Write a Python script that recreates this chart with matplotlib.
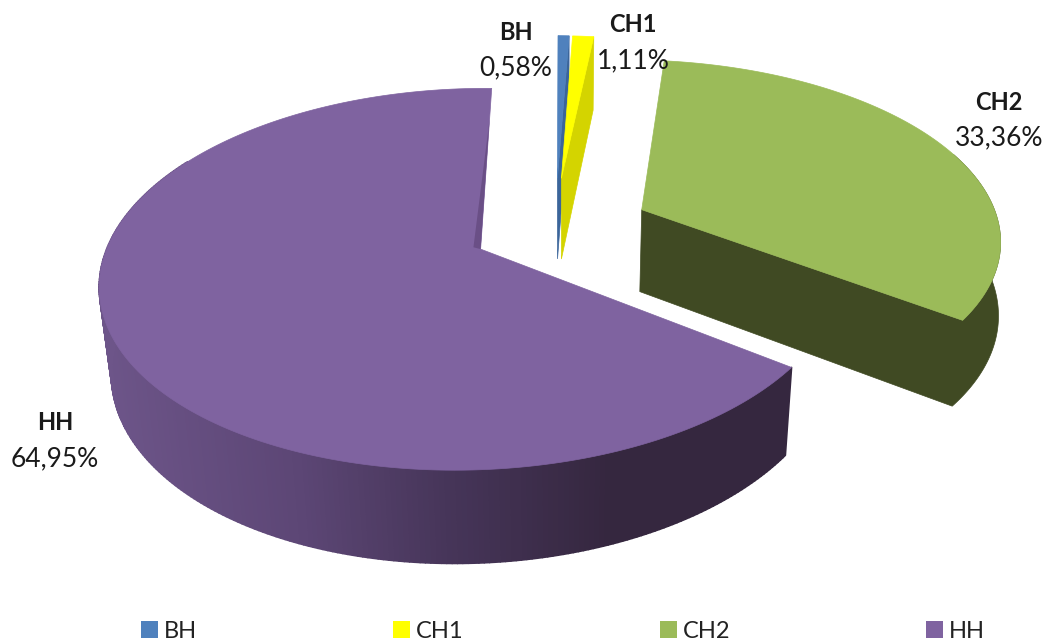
import numpy as np
import matplotlib
matplotlib.use("Agg")
import matplotlib.pyplot as plt
from matplotlib.patches import Polygon, Patch
from matplotlib.collections import PolyCollection
from matplotlib.colors import to_rgb

categories = ["BH", "CH1", "CH2", "HH"]
values = [0.58, 1.11, 33.36, 64.95]
top_colors = ["#4F81BD", "#FFFF00", "#9BBB59", "#7F63A0"]
wall_colors = ["#3B659A", "#D4D400", "#404A23", None]
label_pos = [(516, 49), (633, 42), (999, 119), (55, 440)]

X0, Y0, B, D = 562.0, 226.0, 178.0, 85.0
K, M = 0.154, 0.025
EX, EY = 0.2146, 0.28
SCALE_X = [365.0, 365.0, 365.0, 355.0]
YAW = [0.014, 0.014, 0.014, 0.022]
NUDGE_X = [-0.017, -0.017, 0.026, -0.0323]
NUDGE_Y = [0.0, 0.0, -0.02, 0.0]
WALL_FLARE = 0.05

plt.rcParams["font.family"] = ["Lato", "DejaVu Sans"]
fig = plt.figure(figsize=(10.51, 6.43), dpi=100)
ax = fig.add_axes([0, 0, 1, 1])
ax.set_xlim(0, 1051)
ax.set_ylim(643, 0)
ax.axis("off")


def project(x, y, z, a, j):
    w = 1 + K * y + j * x + M * z
    return np.column_stack([X0 + a * x / w, Y0 + (-B * y + D * z) / w])


def hh_shade(x):
    stops_x = [100, 300, 450, 610]
    stops = np.array([to_rgb(s) for s in ["#6D5589", "#5C4675", "#463559", "#35273F"]])
    return [np.interp(x, stops_x, stops[:, i]) for i in range(3)]


bounds = np.radians(np.cumsum([0] + values) * 3.6)
for i, name in enumerate(categories):
    t0, t1 = bounds[i], bounds[i + 1]
    mid = 0.5 * (t0 + t1)
    cx = EX * np.sin(mid) + NUDGE_X[i]
    cy = EY * np.cos(mid) + NUDGE_Y[i]
    a, j = SCALE_X[i], YAW[i]

    def rim(t, z, r=1.0):
        t = np.atleast_1d(t)
        return project(cx + r * np.sin(t), cy + r * np.cos(t), np.full(t.shape, float(z)), a, j)

    def hub(z):
        return project(np.array([cx]), np.array([cy]), np.array([float(z)]), a, j)

    if name == "HH":
        t = np.linspace(t0, np.radians(300), 240)
        up, low = rim(t, 0), rim(t, 1)
        polys = [[up[k], up[k + 1], low[k + 1], low[k]] for k in range(239)]
        cols = [hh_shade(up[k][0]) for k in range(239)]
        ax.add_collection(PolyCollection(polys, facecolors=cols, edgecolors=cols, linewidths=1.2))
    elif name == "CH2":
        t = np.linspace(np.radians(70), t1, 200)
        flare = 1 + WALL_FLARE * (t1 - t) / (t1 - t[0])
        outline = np.vstack([hub(0), rim(t[::-1], 0), rim(t, 1, flare), hub(1)])
        ax.add_patch(Polygon(outline, fc=wall_colors[i], ec=wall_colors[i], lw=0.5))
    else:
        outline = np.vstack([hub(0), rim(t1, 0), rim(t1, 1), hub(1)])
        ax.add_patch(Polygon(outline, fc=wall_colors[i], ec=wall_colors[i], lw=0.5))

    top = np.vstack([hub(0), rim(np.linspace(t0, t1, 200), 0)])
    ax.add_patch(Polygon(top, fc=top_colors[i], ec=top_colors[i], lw=0.5))

    if name == "HH":
        r = 0.78
        pts = project(np.array([cx, cx + r * np.sin(t1), cx - 0.02]),
                      np.array([cy, cy + r * np.cos(t1), cy + 0.01]),
                      np.zeros(3), a, j)
        ax.add_patch(Polygon(pts, fc="#6A4F86", ec="none"))

    lx, ly = label_pos[i]
    ax.text(lx, ly - 17, name, ha="center", va="center", fontsize=17, fontweight="bold", color="#1a1a1a")
    ax.text(lx, ly + 19, f"{values[i]:.2f}".replace(".", ",") + "%", ha="center", va="center",
            fontsize=19, color="#1a1a1a")

handles = [Patch(fc=col, ec="none", label=n) for n, col in zip(categories, top_colors)]
ax.legend(handles=handles, ncol=4, frameon=False, loc="lower left",
          bbox_to_anchor=(141 / 1051, 0.002), borderpad=0, borderaxespad=0,
          fontsize=17, handlelength=0.72, handleheight=0.7, handletextpad=0.25,
          columnspacing=8.3, labelcolor="#222222")

fig.savefig("out.png", dpi=100)
